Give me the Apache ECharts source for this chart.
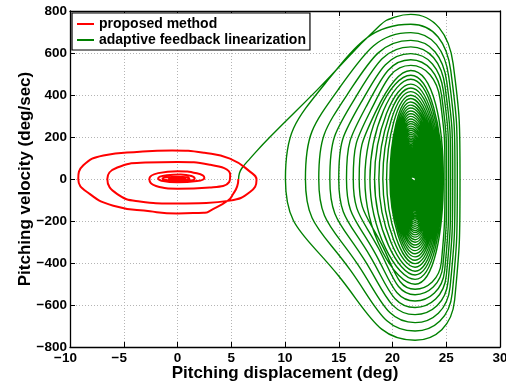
<!DOCTYPE html>
<html>
<head>
<meta charset="utf-8">
<script src="https://cdn.jsdelivr.net/npm/echarts@6/dist/echarts.min.js"></script>
<style>
  html, body { margin: 0; padding: 0; background: #ffffff; }
  #chart { width: 506px; height: 383px; }
</style>
</head>
<body>
<div id="chart"></div>
<script>
// Phase portrait of the pitching motion: displacement (deg) against velocity (deg/sec)
const seriesNames = ['proposed method', 'adaptive feedback linearization'];
const xRange = { min: -10, max: 30, step: 5 };
const yRange = { min: -800, max: 800, step: 200 };
const axisTitles = { x: 'Pitching displacement (deg)', y: 'Pitching velocity (deg/sec)' };

// Proposed controller: trajectory spiralling into the origin
const redTrajectory = [
  [5.66, 0], [5.55, -35], [5.19, -70], [4.73, -101], [2.9, -155], [2.72, -160], [2.45, -160.5],
  [0, -164], [-2.56, -154], [-5.97, -127], [-8.14, -72], [-9.23, 0],
  [-8.76, 65], [-6.9, 112], [-3.5, 130], [-0.5, 136], [2.5, 125], [4.88, 97], [6.74, 35], [7.35, -5],
  [6.74, -62], [4.88, -103], [2, -115], [-0.5, -117], [-3.5, -107], [-5.6, -72], [-6.53, 0],
  [-5.6, 55], [-3, 78], [0, 81], [3, 68], [4.9, 20], [4.8, -15], [3, -40], [0, -46],
  [-2, -33], [-2.62, 0], [-1.8, 28], [0, 37], [1.8, 27], [2.5, 5], [1.8, -10], [0, -16],
  [-1.5, -8], [-1.8, 3], [-1, 18], [0.3, 22], [1.3, 14], [1.6, 1], [1, -8], [0, -10],
  [-1.2, -3], [-1.4, 3], [-0.5, 10], [0.5, 10], [1.1, 3], [0.8, -4], [0, -5],
  [-0.8, 0], [-0.3, 5], [0.5, 5], [0.7, 0], [0.2, -2], [0, 0]
];

// Adaptive feedback linearization: initial climb, then decaying swings about ~22 deg
const greenStart = [[5.68, 0], [5.75, 25], [5.97, 50], [6.74, 97], [8.6, 200], [12.95, 422], [18.84, 732], [20.3, 772]];
const greenTopX = 21.7;
const greenBottomX = 22.1;
const greenTop = [784, 737, 697, 660, 629, 597, 568, 541, 517, 494, 475, 452, 433, 416,
  399, 383, 367, 352, 338, 324, 311, 298, 286, 274, 263, 252, 242, 232, 222, 213,
  204, 196, 188, 180, 172, 165, 158, 151, 145, 139, 133, 127, 122, 117, 112, 107,
  102, 98, 94, 90, 86, 82, 78, 75, 72, 69, 66, 63, 60,
  57, 54, 51, 48, 45, 42, 39, 36, 33, 30, 27, 24, 21, 18, 15, 12];
const greenRight = [26.28, 26.03, 25.81, 25.6, 25.41, 25.23, 25.04, 24.88, 24.73,
  24.64, 24.56, 24.48, 24.4, 24.32, 24.25, 24.18, 24.11, 24.04, 23.98,
  23.92, 23.86, 23.8, 23.74, 23.69, 23.64, 23.59, 23.54, 23.49, 23.44,
  23.4, 23.36, 23.32, 23.28, 23.24, 23.2, 23.16, 23.13, 23.1, 23.07,
  23.04, 23.01, 22.98, 22.95, 22.92, 22.89, 22.86, 22.83, 22.8, 22.77,
  22.74, 22.71, 22.68, 22.65, 22.62, 22.59, 22.56, 22.53, 22.5, 22.47,
  22.44, 22.42, 22.4, 22.38, 22.36, 22.34, 22.32, 22.3, 22.28, 22.26,
  22.24, 22.22, 22.2, 22.18, 22.16, 22.14];
const greenBottom = [-768, -724, -684, -646, -612, -581, -551, -525, -501, -478, -457, -439, -420, -403,
  -387, -371, -356, -341, -327, -314, -301, -289, -277, -266, -255, -245, -235, -225, -216, -207,
  -198, -190, -182, -175, -167, -160, -153, -147, -141, -135, -129, -124, -119, -114,
  -109, -104, -99, -95, -91, -87, -83, -80, -76, -73, -70, -67, -64, -61, -58,
  -55, -52, -49, -46, -43, -40, -37, -34, -31, -28, -25, -22, -19, -16, -13, -10];
const greenLeft = [10.04, 11.9, 13.14, 14.17, 15.0, 15.72, 16.35, 16.9, 17.43, 17.9, 18.33, 18.73, 19.1, 19.45, 19.76,
  19.88, 20.0, 20.11, 20.21, 20.3, 20.39, 20.47, 20.55, 20.62, 20.69,
  20.75, 20.81, 20.87, 20.92, 20.97, 21.02, 21.06, 21.1, 21.14, 21.18,
  21.21, 21.24, 21.27, 21.3, 21.33, 21.36, 21.38, 21.4, 21.42, 21.44,
  21.46, 21.48, 21.5, 21.52, 21.54, 21.56, 21.58, 21.6, 21.62, 21.64,
  21.65, 21.66, 21.67, 21.68,
  21.69, 21.695, 21.7, 21.705, 21.71, 21.715, 21.72, 21.725, 21.73, 21.735, 21.74, 21.745, 21.75, 21.755, 21.76, 21.765];
// extra shape points on the wide outer swings
const greenUpperRight = [[25.64, 549], [25.42, 516], [25.23, 488], [25.05, 462], [24.89, 440], [24.74, 418], [24.57, 398], [24.43, 379]];
const greenLowerRight = [[25.78, -576], [25.56, -543], [25.36, -513], [25.18, -485], [25.01, -459], [24.85, -436], [24.69, -413], [24.55, -394]];
const greenLowerLeft = [[14.98, -461], [16.08, -434], [16.81, -410], [17.42, -388], [17.91, -367], [18.34, -349], [18.71, -331], [19.03, -315]];
const greenUpperLeft = [[13.77, 457], [15.04, 432], [15.88, 409], [16.58, 390], [17.14, 370], [17.63, 352], [18.06, 335], [18.44, 321]];

function buildGreenTrajectory() {
  const pts = greenStart.slice();
  for (let i = 0; i < greenTop.length; i++) {
    pts.push([greenTopX, greenTop[i]]);
    if (greenUpperRight[i]) pts.push(greenUpperRight[i]);
    pts.push([greenRight[i], 0]);
    if (greenLowerRight[i]) pts.push(greenLowerRight[i]);
    pts.push([greenBottomX, greenBottom[i]]);
    if (greenLowerLeft[i]) pts.push(greenLowerLeft[i]);
    pts.push([greenLeft[i], 0]);
    if (greenUpperLeft[i]) pts.push(greenUpperLeft[i]);
  }
  return pts;
}

const FONT = 'Liberation Sans, Arial, Helvetica, sans-serif';
const minus = v => String(v).replace('-', '\u2212');

const chart = echarts.init(document.getElementById('chart'), null, { renderer: 'canvas' });

const frameAxis = {
  type: 'value',
  axisLine: { show: true, onZero: false, lineStyle: { color: '#000', width: 1.3 } },
  axisTick: { show: true, inside: true, length: 5, lineStyle: { color: '#000', width: 1 } },
  axisLabel: { show: false },
  splitLine: { show: false }
};

chart.setOption({
  animation: false,
  backgroundColor: '#ffffff',
  grid: { left: 70, top: 11, width: 430, height: 336, containLabel: false, outerBoundsMode: 'none' },
  legend: {
    orient: 'vertical',
    left: 72, top: 13,
    data: seriesNames,
    icon: 'rect',
    backgroundColor: '#ffffff',
    borderColor: '#000', borderWidth: 1.2,
    padding: [4, 4, 3, 5],
    itemWidth: 17, itemHeight: 2, itemGap: 2,
    textStyle: { color: '#000', fontFamily: FONT, fontWeight: 'bold', fontSize: 14 }
  },
  xAxis: [
    {
      type: 'value', position: 'bottom',
      min: xRange.min, max: xRange.max, interval: xRange.step,
      axisLine: { show: true, onZero: false, lineStyle: { color: '#000', width: 1.3 } },
      axisTick: { show: true, inside: true, length: 5, lineStyle: { color: '#000', width: 1 } },
      axisLabel: {
        color: '#000', fontFamily: FONT, fontWeight: 'bold', fontSize: 13.5, margin: 4,
        formatter: v => (v < 0 ? '{v|' + minus(v) + '}{p|}' : '{v|' + v + '}'),
        rich: { v: { fontFamily: FONT, fontWeight: 'bold', fontSize: 13.5, color: '#000' }, p: { width: 9 } }
      },
      splitLine: { show: true, lineStyle: { color: '#b4b4b4', width: 1, type: [1, 2] } },
      name: axisTitles.x, nameLocation: 'middle', nameGap: 18, nameMoveOverlap: false,
      nameTextStyle: { color: '#000', fontFamily: FONT, fontWeight: 'bold', fontSize: 17 }
    },
    Object.assign({}, frameAxis, { position: 'top', min: xRange.min, max: xRange.max, interval: xRange.step })
  ],
  yAxis: [
    {
      type: 'value', position: 'left',
      min: yRange.min, max: yRange.max, interval: yRange.step,
      axisLine: { show: true, onZero: false, lineStyle: { color: '#000', width: 1.3 } },
      axisTick: { show: true, inside: true, length: 5, lineStyle: { color: '#000', width: 1 } },
      axisLabel: {
        color: '#000', fontFamily: FONT, fontWeight: 'bold', fontSize: 13.5, margin: 3,
        formatter: v => minus(v)
      },
      splitLine: { show: true, lineStyle: { color: '#b4b4b4', width: 1, type: [1, 2] } },
      name: axisTitles.y, nameLocation: 'middle', nameGap: 36, nameMoveOverlap: false,
      nameTextStyle: { color: '#000', fontFamily: FONT, fontWeight: 'bold', fontSize: 17 }
    },
    Object.assign({}, frameAxis, { position: 'right', min: yRange.min, max: yRange.max, interval: yRange.step })
  ],
  series: [
    {
      name: seriesNames[1], type: 'line', data: buildGreenTrajectory(),
      smooth: 0.5, symbol: 'none', showSymbol: false,
      lineStyle: { color: '#008000', width: 1.4 }, itemStyle: { color: '#008000' },
      clip: true, z: 2
    },
    {
      name: seriesNames[0], type: 'line', data: redTrajectory,
      smooth: 0.5, symbol: 'none', showSymbol: false,
      lineStyle: { color: '#ff0000', width: 2 }, itemStyle: { color: '#ff0000' },
      clip: true, z: 3
    }
  ]
});
</script>
</body>
</html>
